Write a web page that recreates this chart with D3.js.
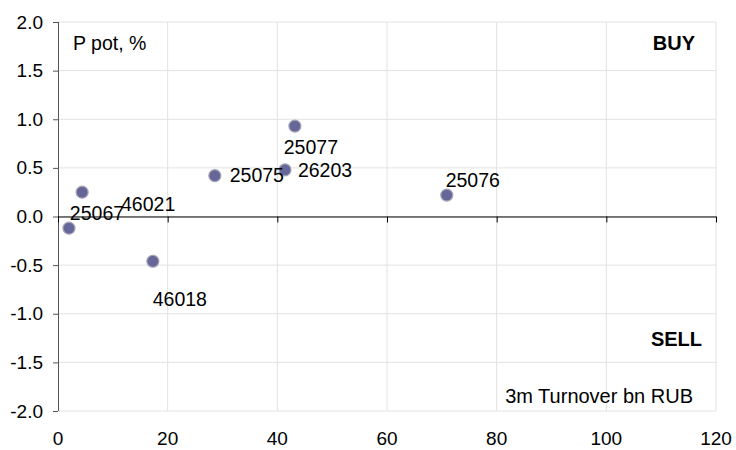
<!DOCTYPE html>
<html>
<head>
<meta charset="utf-8">
<script src="https://cdn.jsdelivr.net/npm/d3@7"></script>
<style>
  body { margin: 0; background: #fff; }
  text { font-family: "Liberation Sans", Arial, sans-serif; fill: #000; }
</style>
</head>
<body>
<div id="chart"></div>
<script>
//////////////////////////////////////////////////////////////
///////////////////////// Data ///////////////////////////////
//////////////////////////////////////////////////////////////

var bonds = ["25067", "46021", "46018", "25075", "26203", "25077", "25076"];
var turnover = [2.0, 4.4, 17.3, 28.6, 41.4, 43.2, 70.9];   //3m turnover, bn RUB
var pPot = [-0.12, 0.25, -0.46, 0.42, 0.48, 0.93, 0.22];    //P pot, %

var xTicks = [0, 20, 40, 60, 80, 100, 120];
var yTicks = [-2.0, -1.5, -1.0, -0.5, 0.0, 0.5, 1.0, 1.5, 2.0];

//label offsets in px from the point (placed by hand in the original)
var labelDx = [28, 66, 27, 42, 40, 16, 26];
var labelDy = [-15, 12, 38, -1, 0, 21, -15];

//////////////////////////////////////////////////////////////
//////////////////////// Settings ////////////////////////////
//////////////////////////////////////////////////////////////

var W = 736, H = 450;
var margin = {top: 22, right: 20, bottom: 39, left: 58};
var width = W - margin.left - margin.right;
var height = H - margin.top - margin.bottom;

var xScale = d3.scaleLinear().domain([0, 120]).range([0, width]);
var yScale = d3.scaleLinear().domain([-2, 2]).range([height, 0]);

var svg = d3.select("#chart").append("svg")
    .attr("width", W)
    .attr("height", H);

var g = svg.append("g")
    .attr("transform", "translate(" + margin.left + "," + margin.top + ")");

//////////////////////////////////////////////////////////////
///////////////////////// Grid ///////////////////////////////
//////////////////////////////////////////////////////////////

g.append("g").selectAll("line.hgrid")
    .data(yTicks).enter()
    .append("line")
        .attr("x1", 0).attr("x2", width)
        .attr("y1", d => yScale(d)).attr("y2", d => yScale(d))
        .attr("stroke", "#e2e2e2")
        .attr("stroke-width", 1);

g.append("g").selectAll("line.vgrid")
    .data(xTicks.slice(1)).enter()
    .append("line")
        .attr("x1", d => xScale(d)).attr("x2", d => xScale(d))
        .attr("y1", 0).attr("y2", height)
        .attr("stroke", "#e2e2e2")
        .attr("stroke-width", 1);

//////////////////////////////////////////////////////////////
///////////////////////// Axes ///////////////////////////////
//////////////////////////////////////////////////////////////

//y axis on the left
var yAxis = d3.axisLeft(yScale)
    .tickValues(yTicks)
    .tickFormat(d3.format(".1f"))
    .tickSize(5)
    .tickPadding(10);

var gy = g.append("g").attr("class", "y axis").call(yAxis);
gy.select(".domain").attr("stroke", "#555").attr("d", "M0.5," + yScale(2) + "V" + yScale(-2));
gy.selectAll(".tick line").attr("stroke", "#555");
gy.selectAll(".tick text")
    .style("font-size", "19px")
    .text(d => d3.format(".1f")(d).replace("−", "-"));

//x axis drawn through zero, labels at the bottom
var xAxis = d3.axisBottom(xScale)
    .tickValues(xTicks)
    .tickSize(6)
    .tickFormat("");

var gx = g.append("g")
    .attr("class", "x axis")
    .attr("transform", "translate(0," + yScale(0) + ")")
    .call(xAxis);
gx.select(".domain").attr("stroke", "#000").attr("d", "M0," + 0.5 + "H" + width);
gx.selectAll(".tick line").attr("stroke", "#000");

g.append("g").selectAll("text.xlab")
    .data(xTicks).enter()
    .append("text")
        .attr("x", d => xScale(d))
        .attr("y", height + 34)
        .attr("text-anchor", "middle")
        .style("font-size", "19px")
        .text(d => d);

//////////////////////////////////////////////////////////////
//////////////////////// Points //////////////////////////////
//////////////////////////////////////////////////////////////

g.append("g").selectAll("circle")
    .data(bonds).enter()
    .append("circle")
        .attr("cx", (d, i) => xScale(turnover[i]))
        .attr("cy", (d, i) => yScale(pPot[i]))
        .attr("r", 6)
        .attr("fill", "#666699")
        .attr("stroke", "#a5a5b5")
        .attr("stroke-width", 1.2);

g.append("g").selectAll("text.lbl")
    .data(bonds).enter()
    .append("text")
        .attr("x", (d, i) => xScale(turnover[i]) + labelDx[i])
        .attr("y", (d, i) => yScale(pPot[i]) + labelDy[i])
        .attr("text-anchor", "middle")
        .attr("dominant-baseline", "central")
        .style("font-size", "19.5px")
        .text(d => d);

//////////////////////////////////////////////////////////////
//////////////////////// Annotations /////////////////////////
//////////////////////////////////////////////////////////////

g.append("text")
    .attr("x", 15).attr("y", 28)
    .style("font-size", "19.5px")
    .text("P pot, %");

g.append("text")
    .attr("x", width - 21).attr("y", 28)
    .attr("text-anchor", "end")
    .style("font-size", "20px")
    .style("font-weight", "bold")
    .text("BUY");

g.append("text")
    .attr("x", width - 14).attr("y", 324)
    .attr("text-anchor", "end")
    .style("font-size", "20px")
    .style("font-weight", "bold")
    .text("SELL");

g.append("text")
    .attr("x", width - 23).attr("y", 381)
    .attr("text-anchor", "end")
    .style("font-size", "20px")
    .text("3m Turnover bn RUB");
</script>
</body>
</html>
